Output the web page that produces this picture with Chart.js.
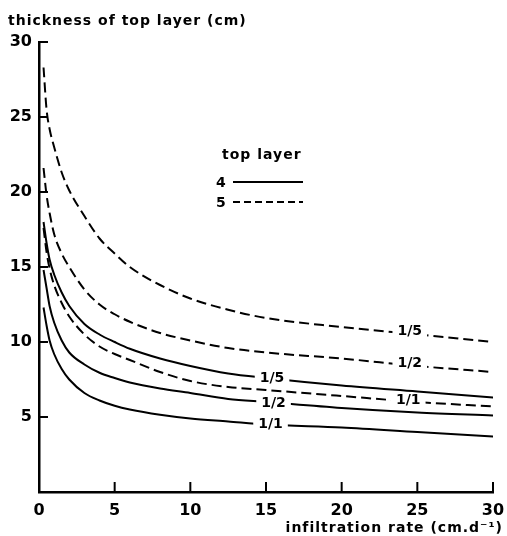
<!DOCTYPE html>
<html lang="en">
  <head>
    <meta charset="UTF-8" />
    <title>thickness of top layer vs infiltration rate</title>
    <style>
      html, body { margin: 0; padding: 0; background: #fff; }
      canvas { display: block; }
    </style>
  </head>
  <body>
    <canvas id="myChart" width="507" height="536"></canvas>

    <script src="https://cdn.jsdelivr.net/npm/chart.js"></script>

    <script>
      // infiltration rate (cm/d) where the curves were read
      const rates = [0.3, 0.5, 0.7, 1, 1.5, 2, 3, 4, 5, 6, 8, 10, 12.5, 15, 20, 25, 30];

      // top layer 5 (dashed)
      const layer5_1_5 = [28.3, 25.5, 24.2, 23.0, 21.3, 20.1, 18.4, 16.9, 15.9, 15.0, 13.8, 12.9, 12.15, 11.6, 11.0, 10.5, 10.0];
      const layer5_1_2 = [21.6, 19.8, 18.6, 17.2, 15.9, 15.0, 13.5, 12.5, 11.85, 11.35, 10.6, 10.1, 9.6, 9.3, 8.9, 8.4, 8.0];
      const layer5_1_1 = [17.6, 16.0, 14.9, 13.8, 12.6, 11.7, 10.5, 9.7, 9.2, 8.8, 8.0, 7.4, 7.0, 6.8, 6.4, 6.0, 5.7];

      // top layer 4 (solid)
      const layer4_1_5 = [18.0, 16.6, 15.5, 14.5, 13.3, 12.4, 11.2, 10.5, 10.0, 9.55, 8.9, 8.4, 7.9, 7.6, 7.1, 6.7, 6.3];
      const layer4_1_2 = [14.8, 13.6, 12.4, 11.3, 10.1, 9.3, 8.5, 7.95, 7.6, 7.3, 6.9, 6.6, 6.2, 6.0, 5.6, 5.3, 5.1];
      const layer4_1_1 = [12.3, 11.1, 10.1, 9.2, 8.2, 7.5, 6.6, 6.1, 5.75, 5.5, 5.15, 4.9, 4.7, 4.5, 4.3, 4.0, 3.7];

      const xTicks = [0, 5, 10, 15, 20, 25, 30];
      const yTicks = [0, 5, 10, 15, 20, 25, 30];

      // curve labels: text, rate, thickness
      const curveLabels = [
        ["1/5", 15.4, 7.6],
        ["1/2", 15.5, 5.9],
        ["1/1", 15.3, 4.5],
        ["1/5", 24.5, 10.7],
        ["1/2", 24.5, 8.6],
        ["1/1", 24.4, 6.1],
      ];

      const FONT = "'DejaVu Sans', sans-serif";
      Chart.defaults.font.family = FONT;
      Chart.defaults.color = "#000";

      function series(values, dashed) {
        return {
          data: rates.map((r, i) => ({ x: r, y: values[i] })),
          borderColor: "#000",
          borderWidth: 2,
          borderDash: dashed ? [10, 5] : [],
          pointRadius: 0,
          fill: false,
          cubicInterpolationMode: "monotone",
        };
      }

      const overlay = {
        id: "overlay",
        afterDatasetsDraw(chart) {
          const { ctx } = chart;
          const xs = chart.scales.x;
          const ys = chart.scales.y;
          ctx.save();
          ctx.fillStyle = "#000";
          ctx.strokeStyle = "#000";
          ctx.lineWidth = 2;

          // inward tick marks
          xTicks.forEach((v) => {
            if (v === 0) return;
            const px = xs.getPixelForValue(v);
            ctx.beginPath();
            ctx.moveTo(px, ys.bottom);
            ctx.lineTo(px, ys.bottom - 10);
            ctx.stroke();
          });
          yTicks.forEach((v) => {
            if (v === 0) return;
            const py = ys.getPixelForValue(v);
            ctx.beginPath();
            ctx.moveTo(xs.left, py);
            ctx.lineTo(xs.left + 9, py);
            ctx.stroke();
          });

          // curve labels, with a gap cut in the line
          ctx.font = "bold 14px " + FONT;
          ctx.textAlign = "center";
          ctx.textBaseline = "middle";
          curveLabels.forEach(([t, r, v]) => {
            const px = xs.getPixelForValue(r);
            const py = ys.getPixelForValue(v);
            const w = ctx.measureText(t).width;
            ctx.fillStyle = "#fff";
            ctx.fillRect(px - w / 2 - 5, py - 6, w + 10, 12);
            ctx.fillStyle = "#000";
            ctx.fillText(t, px, py);
          });

          // legend
          ctx.letterSpacing = "1px";
          ctx.textAlign = "left";
          ctx.textBaseline = "alphabetic";
          ctx.font = "bold 14px " + FONT;
          ctx.fillText("top layer", 222, 159);
          ctx.letterSpacing = "0px";
          ctx.fillText("4", 216, 187);
          ctx.fillText("5", 216, 207);
          ctx.beginPath();
          ctx.moveTo(233, 182);
          ctx.lineTo(303, 182);
          ctx.stroke();
          ctx.setLineDash([7, 4]);
          ctx.beginPath();
          ctx.moveTo(233, 202);
          ctx.lineTo(303, 202);
          ctx.stroke();
          ctx.setLineDash([]);

          // axis titles
          ctx.letterSpacing = "1px";
          ctx.font = "bold 14px " + FONT;
          ctx.fillText("thickness of top layer (cm)", 8, 25);
          ctx.textAlign = "right";
          ctx.fillText("infiltration rate (cm.d\u207B\u00B9)", 503, 532);
          ctx.restore();
        },
      };

      new Chart(document.getElementById("myChart"), {
        type: "line",
        data: {
          datasets: [
            series(layer5_1_5, true),
            series(layer5_1_2, true),
            series(layer5_1_1, true),
            series(layer4_1_5, false),
            series(layer4_1_2, false),
            series(layer4_1_1, false),
          ],
        },
        options: {
          responsive: false,
          animation: false,
          layout: { padding: { top: 42, right: 14, left: 0, bottom: 0 } },
          plugins: { legend: { display: false }, tooltip: { enabled: false } },
          scales: {
            x: {
              type: "linear",
              min: 0,
              max: 30,
              afterFit: (s) => {
                s.height = 44;
                s.paddingLeft = 0;
                s.paddingRight = 0;
              },
              afterBuildTicks: (s) => { s.ticks = xTicks.map((v) => ({ value: v })); },
              grid: { display: false, drawTicks: false },
              border: { display: true, color: "#000", width: 2.5 },
              ticks: { font: { size: 16, weight: "bold" }, padding: 9, maxRotation: 0, autoSkip: false },
            },
            y: {
              min: 0,
              max: 30,
              afterFit: (s) => {
                s.width = 39;
                s.paddingTop = 0;
                s.paddingBottom = 0;
              },
              afterBuildTicks: (s) => { s.ticks = yTicks.map((v) => ({ value: v })); },
              grid: { display: false, drawTicks: false },
              border: { display: true, color: "#000", width: 2.5 },
              ticks: {
                font: { size: 16, weight: "bold" },
                padding: 7,
                callback: (v) => (v === 0 ? "" : v),
              },
            },
          },
        },
        plugins: [overlay],
      });
    </script>
  </body>
</html>
